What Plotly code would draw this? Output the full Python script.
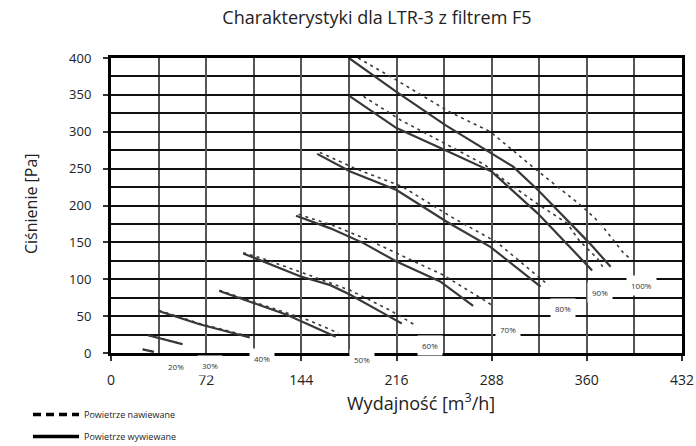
import plotly.graph_objects as go

# ---- data (flow m3/h, pressure Pa) ----
levels = ["20%", "30%", "40%", "50%", "60%", "70%", "80%", "90%", "100%"]

# Powietrze wywiewane (solid)
wyw_x_20 = [24, 32.5];  wyw_y_20 = [5, 1.5]
wyw_x_30 = [28, 54];    wyw_y_30 = [24, 12]
wyw_x_40 = [36, 67, 105]; wyw_y_40 = [57, 39, 21]
wyw_x_50 = [82, 133, 170]; wyw_y_50 = [84, 52, 22]
wyw_x_60 = [100, 143, 166, 181, 211, 220]; wyw_y_60 = [135, 104, 92, 79, 49, 40]
wyw_x_70 = [140, 166, 191, 216, 249, 274]; wyw_y_70 = [186, 169, 149, 124, 97, 64]
wyw_x_80 = [156, 181, 216, 254, 287, 325]; wyw_y_80 = [270, 246, 221, 178, 144, 90]
wyw_x_90 = [180, 216, 253, 288, 323, 364]; wyw_y_90 = [349, 305, 275, 246, 189, 112]
wyw_x_100 = [180, 216, 253, 288, 304, 323, 352, 362, 378]
wyw_y_100 = [400, 354, 309, 271, 253, 221, 167, 149, 117]

# Powietrze nawiewane (dashed)
naw_x_20 = [24, 32.5];  naw_y_20 = [5, 1.5]
naw_x_30 = [28, 54];    naw_y_30 = [24, 12]
naw_x_40 = [36, 67, 106]; naw_y_40 = [58, 40, 22]
naw_x_50 = [82, 133, 150, 172]; naw_y_50 = [85, 54, 44, 27]
naw_x_60 = [100, 115, 146, 181, 211, 230]; naw_y_60 = [136, 128, 108, 85, 58, 38]
naw_x_70 = [142, 168, 195, 216, 251, 282, 289]; naw_y_70 = [188, 173, 153, 135, 106, 72, 64]
naw_x_80 = [158, 185, 220, 258, 292, 331]; naw_y_80 = [272, 250, 226, 184, 150, 92]
naw_x_90 = [191, 219, 259, 283, 294, 322, 345, 354, 368, 372]
naw_y_90 = [348, 316, 278, 255, 239, 203, 176, 153, 128, 117]
naw_x_100 = [187, 216, 256, 287, 322, 357, 370, 388, 394]
naw_y_100 = [400, 370, 327, 300, 248, 198, 176, 135, 126]

# label anchor positions for percentage tags
label_x = [49, 75, 114, 190, 241, 300, 342, 370, 401]
label_y = [-18.6, -16.3, -7.2, -8.5, 9.5, 31.2, 59.7, 81.4, 92.2]

x_ticks = [0, 72, 144, 216, 288, 360, 432]
y_ticks = [0, 50, 100, 150, 200, 250, 300, 350, 400]
Y_MAX = 400

wyw = [(wyw_x_20, wyw_y_20), (wyw_x_30, wyw_y_30), (wyw_x_40, wyw_y_40),
       (wyw_x_50, wyw_y_50), (wyw_x_60, wyw_y_60), (wyw_x_70, wyw_y_70),
       (wyw_x_80, wyw_y_80), (wyw_x_90, wyw_y_90), (wyw_x_100, wyw_y_100)]
naw = [(naw_x_20, naw_y_20), (naw_x_30, naw_y_30), (naw_x_40, naw_y_40),
       (naw_x_50, naw_y_50), (naw_x_60, naw_y_60), (naw_x_70, naw_y_70),
       (naw_x_80, naw_y_80), (naw_x_90, naw_y_90), (naw_x_100, naw_y_100)]

FONT = "Open Sans"
fig = go.Figure()

for (xs, ys) in naw:
    fig.add_trace(go.Scatter(x=xs, y=ys, mode="lines", showlegend=False, hoverinfo="skip",
                             line=dict(color="#3a3a3a", width=1.6, dash="3px,4px")))
for (xs, ys) in wyw:
    fig.add_trace(go.Scatter(x=xs, y=ys, mode="lines", showlegend=False, hoverinfo="skip",
                             line=dict(color="#383838", width=2.2)))

# legend entries
fig.add_trace(go.Scatter(x=[None], y=[None], mode="lines", name="Powietrze nawiewane",
                         legendgroup="a", line=dict(color="black", width=3.5, dash="8px,5px")))
fig.add_trace(go.Scatter(x=[None], y=[None], mode="lines", name="Powietrze wywiewane",
                         legendgroup="b", line=dict(color="black", width=3.5)))

for lab, lx, ly in zip(levels, label_x, label_y):
    fig.add_annotation(x=lx, y=ly / Y_MAX, xref="x", yref="paper", text=lab, showarrow=False,
                       xanchor="center", yanchor="middle",
                       font=dict(family=FONT, size=8, color="#333"),
                       bgcolor="white", borderpad=4)

fig.add_annotation(text="Wydajność [m<sup>3</sup>/h]", xref="paper", yref="paper",
                   x=(421 - 111) / 571, y=-(402 - 353) / 295, showarrow=False,
                   xanchor="center", yanchor="middle",
                   font=dict(family=FONT, size=18, color="#222"))
fig.add_annotation(text="Ciśnienie [Pa]", xref="paper", yref="paper",
                   x=(31 - 111) / 571, y=(353 - 204) / 295, showarrow=False, textangle=-90,
                   xanchor="center", yanchor="middle",
                   font=dict(family=FONT, size=16, color="#222"))

fig.update_layout(
    width=696, height=446,
    margin=dict(l=111, r=14, t=58, b=93, autoexpand=False),
    paper_bgcolor="white", plot_bgcolor="white",
    font=dict(family=FONT, color="#222"),
    title=dict(text="Charakterystyki dla LTR-3 z filtrem F5", x=377 / 696, xanchor="center",
               y=1 - 18 / 446, yanchor="middle", font=dict(family=FONT, size=18, color="#222")),
    legend=dict(xref="container", yref="container", x=28 / 696, y=1 - 400 / 446,
                xanchor="left", yanchor="top", font=dict(family=FONT, size=9, color="#222"),
                itemwidth=46, tracegroupgap=3, bgcolor="rgba(0,0,0,0)"),
    showlegend=True,
)
fig.update_xaxes(range=[0, 432], tickvals=x_ticks, ticktext=[str(v) for v in x_ticks],
                 showgrid=True, gridcolor="#555", gridwidth=2,
                 minor=dict(dtick=36, tick0=0, showgrid=True, gridcolor="#555", gridwidth=2),
                 showline=True, linecolor="black", linewidth=3, mirror=True,
                 ticks="outside", ticklen=5, tickcolor="#333", tickwidth=1.5,
                 ticklabelstandoff=7,
                 tickfont=dict(family=FONT, size=14, color="#222"), zeroline=False)
fig.update_yaxes(range=[0, Y_MAX], tickvals=y_ticks, ticktext=[str(v) for v in y_ticks],
                 showgrid=True, gridcolor="#111", gridwidth=1.5,
                 minor=dict(dtick=25, tick0=0, showgrid=True, gridcolor="#111", gridwidth=1.5),
                 showline=True, linecolor="black", linewidth=3, mirror=True,
                 ticks="outside", ticklen=5, tickcolor="#333", tickwidth=1.5,
                 ticklabelstandoff=9,
                 tickfont=dict(family=FONT, size=13, color="#222"), zeroline=False)

fig.write_html("out.html", config={"displayModeBar": False},
               post_script="document.body.style.margin='0';")
